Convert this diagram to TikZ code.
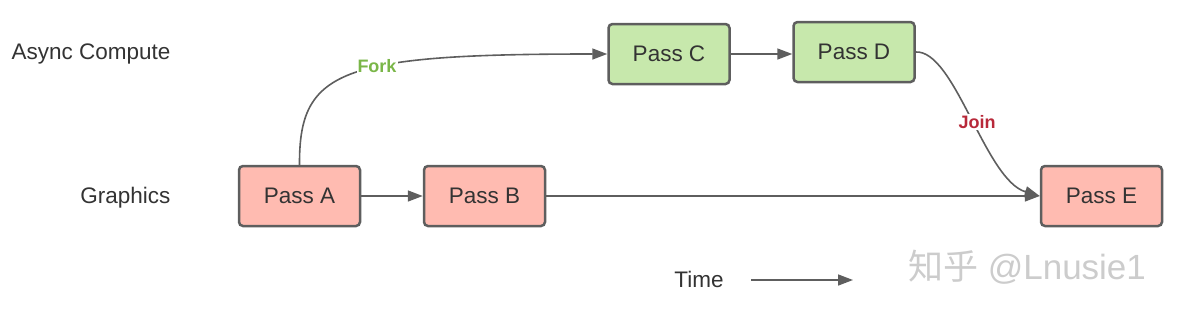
\documentclass[tikz,border=0pt]{standalone}
\usepackage{fontspec}
\setmainfont{Liberation Sans}
\newfontfamily\cjkfont{Noto Sans CJK SC}
\usetikzlibrary{arrows.meta}
\definecolor{passred}{HTML}{FFBBB1}
\definecolor{passgreen}{HTML}{C7E8AC}
\definecolor{edgegray}{HTML}{5E5E5E}
\definecolor{forkgreen}{HTML}{7AB648}
\definecolor{joinred}{HTML}{B8293A}
\tikzset{
  passbox/.style={draw=edgegray,line width=2.5pt,rounded corners=4pt,minimum width=121pt,minimum height=60pt,font=\fontsize{22.5}{27}\selectfont,text=black!80},
  lane/.style={anchor=east,font=\fontsize{22.5}{27}\selectfont,text=black!80},
  flow/.style={->,draw=edgegray,line width=1.6pt},
  tag/.style={fill=white,inner sep=1pt,font=\bfseries\fontsize{18}{21}\selectfont}
}

\begin{document}
\begin{tikzpicture}[x=1pt,y=-1pt,>={Triangle[length=15pt,width=11pt]}]
\useasboundingbox (0,0) rectangle (1178,314);
\node[lane] (async) at (174,54) {Async Compute};
\node[lane] (gfx) at (174,198) {Graphics};
\node[passbox,fill=passred] (passA) at (299.5,196) {Pass A};
\node[passbox,fill=passred] (passB) at (484.5,196) {Pass B};
\node[passbox,fill=passgreen] (passC) at (669,54) {Pass C};
\node[passbox,fill=passgreen] (passD) at (854,52) {Pass D};
\node[passbox,fill=passred] (passE) at (1101.5,196) {Pass E};
\draw[flow] (passA) -- (passB);
\draw[flow] (passC.east) -- (passC.east -| passD.west);
\draw[flow] (passB) -- (passE);
\draw[flow] (passA.north) .. controls (299,70) and (340,54) .. (passC.west);
\draw[flow] (passD.east) .. controls (955,50) and (985,180) .. (passE.west);
\node[tag,text=forkgreen] (fork) at (377,66) {Fork};
\node[tag,text=joinred] (join) at (977,122) {Join};
% time axis
\node[font=\fontsize{22.5}{27}\selectfont,text=black!80] (time) at (699,279) {Time};
\coordinate (t0) at (751,280);
\coordinate (t1) at (853,280);
\draw[flow] (t0) -- (t1);
\node[font=\fontsize{35}{40}\selectfont,text=black!20] (mark) at (1027,267) {{\cjkfont 知乎} @Lnusie1};
\end{tikzpicture}
\end{document}
